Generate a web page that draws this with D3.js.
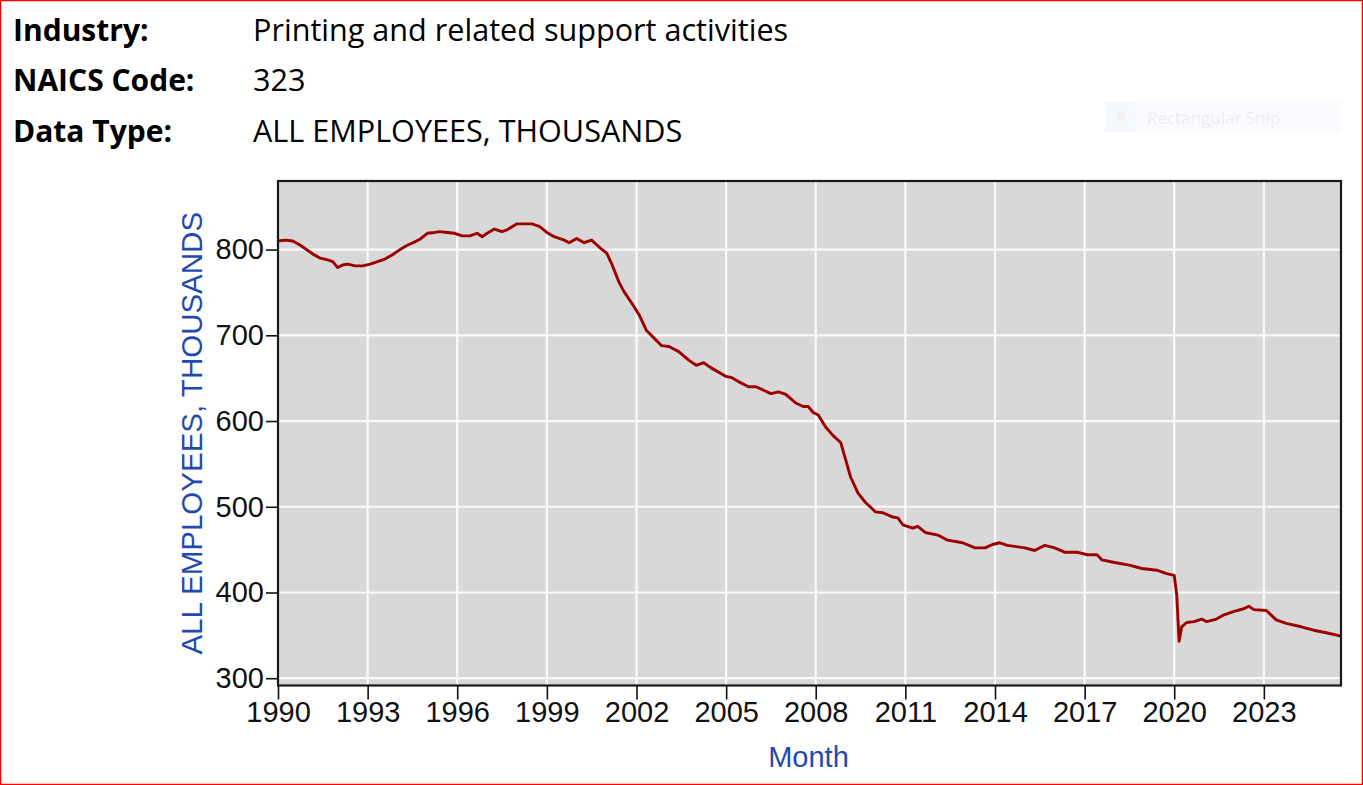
<!DOCTYPE html>
<html>
<head>
<meta charset="utf-8">
<script src="https://cdn.jsdelivr.net/npm/d3@7"></script>
<style>
  html, body { margin: 0; padding: 0; background: #fff; }
  svg { display: block; }
  .hdr { font-family: "Open Sans", "Noto Sans", sans-serif; font-size: 30px; fill: #000; }
  .hdr.val { font-size: 30.6px; }
  .axis text { font-family: "Liberation Sans", Arial, sans-serif; font-size: 29px; fill: #111; }
  .axis line { stroke: #111; stroke-width: 1.6; }
</style>
</head>
<body>
<script>
// header rows
const headerLabels = ['Industry:', 'NAICS Code:', 'Data Type:'];
const headerValues = ['Printing and related support activities', '323', 'ALL EMPLOYEES, THOUSANDS'];

// series (month, thousands of employees)
const months = [
  '1990-01', '1990-04', '1990-07', '1990-10', '1991-01', '1991-03', '1991-06', '1991-09', '1991-11',
  '1992-01', '1992-03', '1992-05', '1992-08', '1992-11', '1993-02', '1993-05', '1993-08', '1993-11',
  '1994-02', '1994-05', '1994-08', '1994-10', '1995-01', '1995-04', '1995-06', '1995-09', '1995-12',
  '1996-03', '1996-06', '1996-09', '1996-11', '1997-01', '1997-04', '1997-07', '1997-09', '1998-01',
  '1998-04', '1998-07', '1998-10', '1999-01', '1999-04', '1999-08', '1999-10', '2000-01', '2000-04',
  '2000-07', '2000-10', '2001-01', '2001-03', '2001-06', '2001-08', '2001-11', '2002-02', '2002-05',
  '2002-08', '2002-11', '2003-02', '2003-06', '2003-10', '2004-01', '2004-04', '2004-07', '2005-01',
  '2005-03', '2005-06', '2005-10', '2006-01', '2006-07', '2006-10', '2007-01', '2007-05', '2007-08',
  '2007-10', '2007-12', '2008-02', '2008-05', '2008-08', '2008-11', '2009-01', '2009-03', '2009-06',
  '2009-09', '2010-01', '2010-04', '2010-08', '2010-10', '2010-12', '2011-04', '2011-06', '2011-09',
  '2012-02', '2012-06', '2012-12', '2013-05', '2013-09', '2013-12', '2014-03', '2014-06', '2015-01',
  '2015-05', '2015-09', '2016-01', '2016-05', '2016-10', '2017-02', '2017-06', '2017-08', '2018-01',
  '2018-07', '2018-12', '2019-06', '2019-10', '2020-01', '2020-02', '2020-03', '2020-04', '2020-06',
  '2020-09', '2020-12', '2021-02', '2021-06', '2021-09', '2022-01', '2022-05', '2022-07', '2022-09',
  '2023-02', '2023-06', '2023-10', '2024-04', '2024-09', '2025-02', '2025-08'
];
const employees = [
  810, 811, 810, 805, 799, 795, 790, 788, 786,
  779, 782, 783, 781, 781, 783, 786, 789, 794,
  800, 805, 809, 812, 819, 820, 821, 820, 819,
  816, 816, 819, 815, 819, 824, 821, 823, 830,
  830, 830, 827, 820, 815, 811, 808, 813, 808,
  811, 803, 796, 784, 762, 751, 738, 724, 706,
  697, 688, 687, 681, 671, 665, 668, 662, 652,
  651, 646, 640, 640, 632, 634, 631, 621, 617,
  617, 610, 607, 593, 583, 575, 555, 535, 516,
  505, 494, 493, 488, 487, 479, 475, 477, 470,
  467, 461, 458, 452, 452, 456, 458, 455, 452,
  449, 455, 452, 447, 447, 444, 444, 438, 435,
  432, 428, 426, 422, 420, 397, 343, 360, 365,
  366, 369, 366, 369, 374, 378, 381, 384, 380,
  379, 368, 364, 360, 356, 353, 349
];

// axis ticks
const yearTicks = [1990, 1993, 1996, 1999, 2002, 2005, 2008, 2011, 2014, 2017, 2020, 2023];
const valueTicks = [300, 400, 500, 600, 700, 800];
const xDomain = ['1990-01', '2025-08'];
const yDomain = [291.5, 880];

const W = 1363, H = 785;
const plot = { left: 278, right: 1341, top: 181, bottom: 685.5 };
const parseMonth = d3.timeParse('%Y-%m');

const svg = d3.select('body').append('svg')
  .attr('width', W)
  .attr('height', H);

svg.append('rect')
  .attr('width', W).attr('height', H)
  .attr('fill', '#fff');

// header block
const rows = svg.append('g');
headerLabels.forEach((label, i) => {
  rows.append('text')
    .attr('class', 'hdr')
    .attr('x', 13)
    .attr('y', 41 + i * 50.3)
    .style('font-weight', 'bold')
    .text(label);
  rows.append('text')
    .attr('class', 'hdr val')
    .attr('x', 253)
    .attr('y', 41 + i * 50.3)
    .text(headerValues[i]);
});

// faded snip tool ghost left in the screenshot
const ghost = svg.append('g').attr('opacity', 0.9);
ghost.append('rect')
  .attr('x', 1105).attr('y', 101).attr('width', 236).attr('height', 31)
  .attr('fill', '#f9fbfe');
ghost.append('rect')
  .attr('x', 1105).attr('y', 101).attr('width', 30).attr('height', 31)
  .attr('fill', '#f4f8fd');
ghost.append('circle')
  .attr('cx', 1121).attr('cy', 117).attr('r', 4.5)
  .attr('fill', '#f5eeee');
ghost.append('text')
  .attr('x', 1147).attr('y', 124)
  .style('font-family', '"Open Sans", sans-serif')
  .style('font-size', '17px')
  .style('fill', '#ededed')
  .text('Rectangular Snip');

// scales
const x = d3.scaleTime()
  .domain(xDomain.map(parseMonth))
  .range([plot.left, plot.right]);

const y = d3.scaleLinear()
  .domain(yDomain)
  .range([plot.bottom, plot.top]);

// plot background
svg.append('rect')
  .attr('x', plot.left).attr('y', plot.top)
  .attr('width', plot.right - plot.left)
  .attr('height', plot.bottom - plot.top)
  .attr('fill', '#d8d8d8');

// grid
const grid = svg.append('g').attr('stroke', '#fafafa').attr('stroke-width', 2.2);
grid.selectAll('.vgrid')
  .data(yearTicks)
  .join('line')
  .attr('x1', d => x(new Date(d, 0, 1))).attr('x2', d => x(new Date(d, 0, 1)))
  .attr('y1', plot.top).attr('y2', plot.bottom);
grid.selectAll('.hgrid')
  .data(valueTicks)
  .join('line')
  .attr('x1', plot.left).attr('x2', plot.right)
  .attr('y1', d => y(d)).attr('y2', d => y(d));

// series
const series = months.map((m, i) => ({ date: parseMonth(m), value: employees[i] }));

svg.append('path')
  .datum(series)
  .attr('fill', 'none')
  .attr('stroke', '#9c0000')
  .attr('stroke-width', 2.9)
  .attr('stroke-linejoin', 'round')
  .attr('d', d3.line().x(d => x(d.date)).y(d => y(d.value)));

// plot frame
svg.append('rect')
  .attr('x', plot.left).attr('y', plot.top)
  .attr('width', plot.right - plot.left)
  .attr('height', plot.bottom - plot.top)
  .attr('fill', 'none')
  .attr('stroke', '#1a1a1a')
  .attr('stroke-width', 2.2);

// axes
const xAxis = svg.append('g')
  .attr('class', 'axis')
  .attr('transform', `translate(0,${plot.bottom})`)
  .call(d3.axisBottom(x)
    .tickValues(yearTicks.map(d => new Date(d, 0, 1)))
    .tickFormat(d3.timeFormat('%Y'))
    .tickSize(14)
    .tickPadding(2));
xAxis.select('.domain').remove();
xAxis.selectAll('text').attr('font-size', null).attr('font-family', null);

const yAxis = svg.append('g')
  .attr('class', 'axis')
  .attr('transform', `translate(${plot.left},0)`)
  .call(d3.axisLeft(y)
    .tickValues(valueTicks)
    .tickSize(12)
    .tickPadding(2));
yAxis.select('.domain').remove();
yAxis.selectAll('text').attr('font-size', null).attr('font-family', null);

// axis titles
svg.append('text')
  .attr('transform', `translate(202,${(plot.top + plot.bottom) / 2}) rotate(-90)`)
  .attr('text-anchor', 'middle')
  .style('font-family', '"Liberation Sans", Arial, sans-serif')
  .style('font-size', '29.5px')
  .style('fill', '#1f4bb0')
  .text('ALL EMPLOYEES, THOUSANDS');

svg.append('text')
  .attr('x', (plot.left + plot.right) / 2 - 1)
  .attr('y', 767)
  .attr('text-anchor', 'middle')
  .style('font-family', '"Liberation Sans", Arial, sans-serif')
  .style('font-size', '29px')
  .style('fill', '#1f4bb0')
  .text('Month');

// red outline of the snip
svg.append('rect')
  .attr('x', 0.5).attr('y', 0.5)
  .attr('width', W - 1).attr('height', H - 1)
  .attr('fill', 'none')
  .attr('stroke', '#ff0000')
  .attr('stroke-width', 1.5);
</script>
</body>
</html>
